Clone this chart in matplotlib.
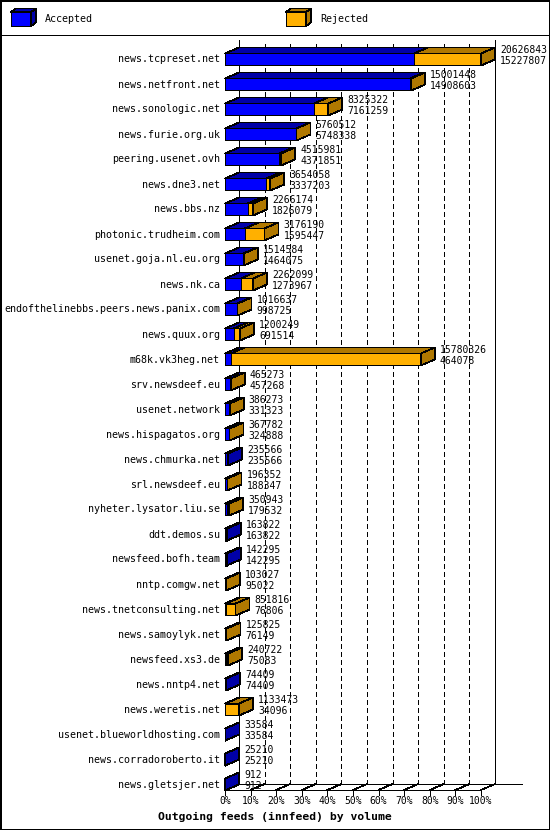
import numpy as np
import matplotlib
matplotlib.use("Agg")
import matplotlib.pyplot as plt
from matplotlib.patches import Polygon, Rectangle
from matplotlib.lines import Line2D

hosts = [
    "news.tcpreset.net", "news.netfront.net", "news.sonologic.net",
    "news.furie.org.uk", "peering.usenet.ovh", "news.dne3.net",
    "news.bbs.nz", "photonic.trudheim.com", "usenet.goja.nl.eu.org",
    "news.nk.ca", "endofthelinebbs.peers.news.panix.com", "news.quux.org",
    "m68k.vk3heg.net", "srv.newsdeef.eu", "usenet.network",
    "news.hispagatos.org", "news.chmurka.net", "srl.newsdeef.eu",
    "nyheter.lysator.liu.se", "ddt.demos.su", "newsfeed.bofh.team",
    "nntp.comgw.net", "news.tnetconsulting.net", "news.samoylyk.net",
    "newsfeed.xs3.de", "news.nntp4.net", "news.weretis.net",
    "usenet.blueworldhosting.com", "news.corradoroberto.it", "news.gletsjer.net",
]
offered = [
    20626843, 15001448, 8325322, 5760512, 4515981, 3654058, 2266174,
    3176190, 1514584, 2262099, 1016637, 1200249, 15780326, 465273,
    386273, 367782, 235566, 196352, 350943, 163822, 142295, 103027,
    851816, 125825, 240722, 74409, 1133473, 33584, 25210, 912,
]
accepted = [
    15227807, 14908603, 7161259, 5748338, 4371851, 3337203, 1826079,
    1595447, 1464075, 1273967, 998725, 691514, 464078, 457268,
    331323, 324888, 235566, 188347, 179532, 163822, 142295, 95022,
    76806, 76149, 75083, 74409, 34096, 33584, 25210, 912,
]
pct_ticks = list(range(0, 101, 10))

BLUE, BLUE_DARK = "#0000ff", "#0000a8"
ORANGE, ORANGE_DARK = "#ffb000", "#b07800"
MONO = "DejaVu Sans Mono"
LW = 0.55

W, H = 550, 830
fig = plt.figure(figsize=(W / 100, H / 100), dpi=100)

n = len(hosts)
ax = fig.add_axes([225 / W, 40 / H, 256 / W, 750 / H])
ax.set_xlim(0, 100)
ax.set_ylim(n - 1 + 0.22, -0.78)
ax.axis("off")

# pixel -> data units
bb = ax.get_position()
sx = 100 / (bb.width * W)
sy = (n - 1 + 0.22 + 0.78) / (bb.height * H)
DX, DY = 14 * sx, 6 * sy
HALF = 6 * sy
FLOOR = n - 1 + 0.22
BACK = FLOOR - DY
TOP = -0.78

# back plane
kw = dict(color="black", lw=LW, zorder=1, clip_on=False, antialiased=False)
ax.plot([DX, DX], [BACK, TOP], **kw)
ax.plot([100 + DX, 100 + DX], [BACK, TOP], **kw)
for p in pct_ticks[1:-1]:
    ax.plot([p + DX, p + DX], [BACK, TOP], ls=(0, (6, 4)), **kw)

# floor
ax.plot([0, 100], [FLOOR, FLOOR], **kw)
ax.plot([DX, 100 + DX + 27 * sx], [BACK, BACK], **kw)
for p in pct_ticks:
    ax.plot([p, p + DX], [FLOOR, BACK], **kw)
    ax.plot([p, p], [FLOOR, FLOOR + 5 * sy], **kw)
    ax.text(p, FLOOR + 11 * sy, f"{p}%", ha="center", va="center",
            family=MONO, fontsize=7.0)


def box(x0, x1, y, front, dark, side=True):
    top, bot = y - HALF, y + HALF
    pk = dict(ec="black", lw=LW, zorder=3, clip_on=False, joinstyle="miter",
              antialiased=False)
    ax.add_patch(Polygon([(x0, bot), (x1, bot), (x1, top), (x0, top)], fc=front, **pk))
    ax.add_patch(Polygon([(x0, top), (x1, top), (x1 + DX, top - DY), (x0 + DX, top - DY)],
                         fc=dark, **pk))
    if side:
        ax.add_patch(Polygon([(x1, top), (x1 + DX, top - DY), (x1 + DX, bot - DY), (x1, bot)],
                             fc=dark, **pk))


vmax = max(offered)
for i, (h, tot, acc) in enumerate(zip(hosts, offered, accepted)):
    xt = tot / vmax * 100
    xa = acc / vmax * 100
    box(0, xa, i, BLUE, BLUE_DARK, side=(tot == acc))
    if tot > acc:
        box(xa, xt, i, ORANGE, ORANGE_DARK)
    ax.text(-5 * sx, i, h, ha="right", va="center", family=MONO, fontsize=7.2,
            clip_on=False)
    tx = xt + DX + 5 * sx
    ax.text(tx, i - 9.3 * sy, str(tot), ha="left", va="center", family=MONO,
            fontsize=7.0, zorder=5, clip_on=False)
    ax.text(tx, i + 1.7 * sy, str(acc), ha="left", va="center", family=MONO,
            fontsize=7.0, zorder=5, clip_on=False)

fig.text(275 / W, 1 - 817 / H, "Outgoing feeds (innfeed) by volume", ha="center",
         va="center", family=MONO, fontweight="bold", fontsize=8.2)

# legend header
hax = fig.add_axes([0, 1 - 36 / H, 1, 36 / H])
hax.set_xlim(0, W)
hax.set_ylim(36, 0)
hax.axis("off")
for x0, label, front, dark in [(11, "Accepted", BLUE, BLUE_DARK),
                                (286, "Rejected", ORANGE, ORANGE_DARK)]:
    x1, t, b, dx, dy = x0 + 20, 12, 26, 5, 3.5
    pk = dict(ec="black", lw=LW, joinstyle="miter", antialiased=False)
    hax.add_patch(Polygon([(x0, b), (x1, b), (x1, t), (x0, t)], fc=front, **pk))
    hax.add_patch(Polygon([(x0, t), (x1, t), (x1 + dx, t - dy), (x0 + dx, t - dy)], fc=dark, **pk))
    hax.add_patch(Polygon([(x1, t), (x1 + dx, t - dy), (x1 + dx, b - dy), (x1, b)], fc=dark, **pk))
    hax.text(x0 + 34, 19.5, label, ha="left", va="center", family=MONO, fontsize=7.2)

fig.add_artist(Line2D([0, 1], [1 - 35.5 / H] * 2, color="black", lw=LW,
                      antialiased=False))
fig.add_artist(Rectangle((0, 0), 1, 1, transform=fig.transFigure, fill=False,
                         ec="black", lw=1.0, antialiased=False))

fig.savefig("out.png", dpi=100)
